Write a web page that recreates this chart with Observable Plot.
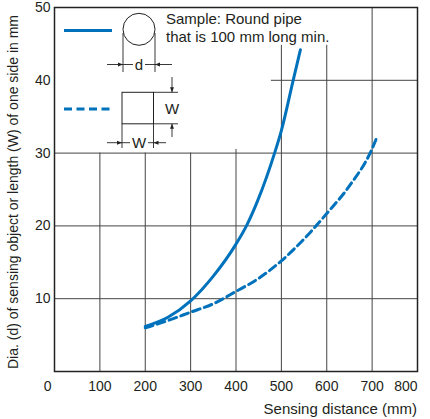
<!DOCTYPE html>
<html>
<head>
<meta charset="utf-8">
<script src="https://cdn.jsdelivr.net/npm/d3@7"></script>
<script src="https://cdn.jsdelivr.net/npm/@observablehq/plot@0.6"></script>
<style>
  html, body { margin: 0; padding: 0; background: #fff; }
  #chart svg { display: block; }
</style>
</head>
<body>
<div id="chart"></div>
<script>
// ---- data ----
const distRound = [200, 250, 300, 350, 400, 423, 448, 485, 500, 526, 542];
const diaRound  = [6.2, 7.45, 9.7, 13.1, 17.5, 20, 23.5, 30, 33.1, 40, 44.2];

const distSquare = [200, 250, 300, 350, 400, 450, 500, 550, 600, 650, 700, 710];
const sideSquare = [6.0, 7.0, 8.15, 9.3, 11.0, 12.8, 15.2, 18.2, 21.7, 25.5, 30.6, 32.1];

const xTicks = [100, 200, 300, 400, 500, 600, 700];
const xTickLast = [800];
const yTicks = [10, 20, 30, 40, 50];

// grid lines (partially hidden behind the legend area)
const gridX = [100, 200, 300, 400, 500, 600, 700];
const gridXTop = [30, 30, 30, 30.5, 44.8, 44.8, 50];
const gridY = [10, 20, 30, 40];
const gridYStart = [0, 0, 0, 478];

const blue = "#0072bc";
const ink = "#231f20";
const font = "'Liberation Sans', Arial, sans-serif";

const round = distRound.map((x, i) => ({x, y: diaRound[i]}));
const square = distSquare.map((x, i) => ({x, y: sideSquare[i]}));

const plot = Plot.plot({
  width: 430,
  height: 419,
  marginLeft: 54,
  marginRight: 13,
  marginTop: 7,
  marginBottom: 48,
  x: {domain: [0, 800], axis: null},
  y: {domain: [0, 50], axis: null},
  style: {fontFamily: font, background: "#fff"},
  marks: [
    Plot.ruleX(gridX, {x: d => d, y1: 0, y2: (d, i) => gridXTop[i], stroke: "#444", strokeWidth: 1}),
    Plot.ruleY(gridY, {y: d => d, x1: (d, i) => gridYStart[i], x2: 800, stroke: "#444", strokeWidth: 1}),
    Plot.frame({stroke: "#222", strokeWidth: 1.5}),
    Plot.line(round, {x: "x", y: "y", stroke: blue, strokeWidth: 3, curve: "monotone-x"}),
    Plot.line(square, {x: "x", y: "y", stroke: blue, strokeWidth: 3, strokeDasharray: "8,4.5", curve: "monotone-x"}),
    Plot.text(xTicks, {x: d => d, y: 0, text: d => String(d), dy: 10, fontSize: 14, fill: ink, lineAnchor: "top"}),
    Plot.text(xTickLast, {x: d => d, y: 0, text: d => String(d), dy: 10, fontSize: 14, fill: ink, lineAnchor: "top", textAnchor: "end"}),
    Plot.text(yTicks, {x: 0, y: d => d, text: d => String(d), dx: -4, fontSize: 14, fill: ink, textAnchor: "end"}),
    Plot.text([0], {x: 0, y: 0, text: d => String(d), dx: -3, dy: 10, fontSize: 14, fill: ink, textAnchor: "end", lineAnchor: "top"})
  ]
});

document.getElementById("chart").appendChild(plot);

// ---- axis titles & legend annotation ----
const svg = d3.select(plot);
svg.append("text")
  .attr("transform", "translate(13,192) rotate(-90)")
  .attr("text-anchor", "middle").attr("dominant-baseline", "central")
  .attr("font-size", 14).attr("font-family", font).attr("fill", ink)
  .text("Dia. (d) of sensing object or length (W) of one side in mm");
svg.append("text")
  .attr("x", 417).attr("y", 408)
  .attr("text-anchor", "end").attr("dominant-baseline", "central")
  .attr("font-size", 15).attr("font-family", font).attr("fill", ink)
  .text("Sensing distance (mm)");

const g = svg.append("g").attr("font-family", font).attr("fill", ink);
// legend lines
g.append("line").attr("x1", 64).attr("x2", 112).attr("y1", 30.5).attr("y2", 30.5)
  .attr("stroke", blue).attr("stroke-width", 3);
g.append("line").attr("x1", 64).attr("x2", 112).attr("y1", 109).attr("y2", 109)
  .attr("stroke", blue).attr("stroke-width", 3).attr("stroke-dasharray", "8,4.5");
// text
g.append("text").attr("x", 166).attr("y", 18).attr("dominant-baseline", "central")
  .attr("text-anchor", "start").attr("font-size", 15).text("Sample: Round pipe");
g.append("text").attr("x", 166).attr("y", 36.5).attr("dominant-baseline", "central")
  .attr("text-anchor", "start").attr("font-size", 15).text("that is 100 mm long min.");

const thin = {stroke: "#222", "stroke-width": 0.9, fill: "none"};
function line(x1, y1, x2, y2) {
  const l = g.append("line").attr("x1", x1).attr("y1", y1).attr("x2", x2).attr("y2", y2);
  Object.entries(thin).forEach(([k, v]) => l.attr(k, v));
}
function arrow(x, y, dir) {
  const s = 5, w = 2;
  let pts;
  if (dir === "r") pts = [[x, y], [x - s, y - w], [x - s, y + w]];
  if (dir === "l") pts = [[x, y], [x + s, y - w], [x + s, y + w]];
  if (dir === "d") pts = [[x, y], [x - w, y - s], [x + w, y - s]];
  if (dir === "u") pts = [[x, y], [x - w, y + s], [x + w, y + s]];
  g.append("polygon").attr("points", pts.map(p => p.join(",")).join(" ")).attr("fill", "#222");
}
// circle with d dimension
line(123, 33, 123, 72);
line(155, 33, 155, 72);
g.append("circle").attr("cx", 139).attr("cy", 29.3).attr("r", 16).attr("stroke", "#222").attr("stroke-width", 1).attr("fill", "none");
line(107, 64.5, 133, 64.5);
line(145, 64.5, 172, 64.5);
arrow(123, 64.5, "r");
arrow(155, 64.5, "l");
g.append("text").attr("x", 139).attr("y", 64.5).attr("text-anchor", "middle").attr("dominant-baseline", "central")
  .attr("font-size", 15).text("d");
// square with W dimensions
g.append("rect").attr("x", 122).attr("y", 92.3).attr("width", 31.5).attr("height", 31.5)
  .attr("stroke", "#222").attr("stroke-width", 1).attr("fill", "none");
line(153.5, 92.3, 178, 92.3);
line(153.5, 123.8, 178, 123.8);
line(172, 77, 172, 92.3);
line(172, 123.8, 172, 137);
arrow(172, 92.3, "d");
arrow(172, 123.8, "u");
g.append("text").attr("x", 172).attr("y", 108).attr("text-anchor", "middle").attr("dominant-baseline", "central")
  .attr("font-size", 15).text("W");
line(122, 123.8, 122, 148);
line(153.5, 123.8, 153.5, 148);
line(107, 142.7, 130, 142.7);
line(148, 142.7, 166, 142.7);
arrow(122, 142.7, "r");
arrow(153.5, 142.7, "l");
g.append("text").attr("x", 139).attr("y", 142.7).attr("text-anchor", "middle").attr("dominant-baseline", "central")
  .attr("font-size", 15).text("W");
</script>
</body>
</html>
